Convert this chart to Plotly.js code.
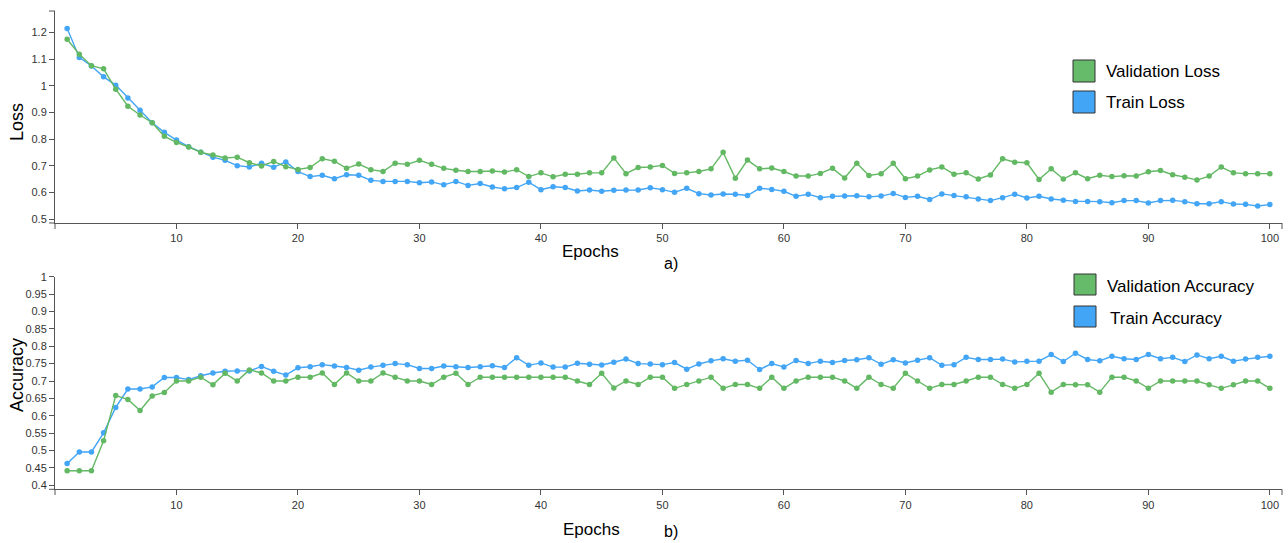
<!DOCTYPE html>
<html>
<head>
<meta charset="utf-8">
<script src="https://cdn.plot.ly/plotly-3.0.1.min.js"></script>
<style>html,body{margin:0;padding:0;background:#fff;}#chart{width:1288px;height:543px;}</style>
</head>
<body>
<div id="chart"></div>
<script>
const epochs = [1,2,3,4,5,6,7,8,9,10,11,12,13,14,15,16,17,18,19,20,21,22,23,24,25,26,27,28,29,30,31,32,33,34,35,36,37,38,39,40,41,42,43,44,45,46,47,48,49,50,51,52,53,54,55,56,57,58,59,60,61,62,63,64,65,66,67,68,69,70,71,72,73,74,75,76,77,78,79,80,81,82,83,84,85,86,87,88,89,90,91,92,93,94,95,96,97,98,99,100];

const valLoss = [
1.174,1.118,1.075,1.063,0.987,0.923,0.890,0.861,0.810,0.787,
0.770,0.750,0.740,0.729,0.732,0.711,0.699,0.716,0.696,0.686,
0.693,0.726,0.717,0.690,0.706,0.685,0.678,0.709,0.705,0.720,
0.705,0.690,0.683,0.678,0.678,0.680,0.676,0.685,0.659,0.673,
0.658,0.668,0.668,0.673,0.673,0.729,0.670,0.693,0.695,0.701,
0.671,0.673,0.678,0.688,0.750,0.653,0.721,0.688,0.691,0.678,
0.661,0.661,0.671,0.690,0.654,0.709,0.663,0.670,0.709,0.651,
0.661,0.684,0.695,0.668,0.673,0.650,0.665,0.726,0.713,0.711,
0.648,0.688,0.650,0.673,0.651,0.664,0.659,0.662,0.661,0.677,
0.682,0.666,0.657,0.646,0.661,0.695,0.673,0.670,0.670,0.670];

const trainLoss = [
1.214,1.106,1.074,1.033,1.002,0.954,0.908,0.861,0.825,0.796,
0.771,0.750,0.732,0.720,0.700,0.695,0.709,0.694,0.714,0.678,
0.659,0.664,0.651,0.666,0.664,0.645,0.641,0.641,0.641,0.636,
0.639,0.628,0.641,0.626,0.633,0.620,0.613,0.618,0.638,0.610,
0.621,0.618,0.605,0.609,0.604,0.608,0.609,0.609,0.617,0.610,
0.600,0.615,0.595,0.590,0.594,0.593,0.588,0.615,0.611,0.604,
0.585,0.593,0.580,0.585,0.586,0.587,0.583,0.586,0.596,0.581,
0.585,0.573,0.594,0.588,0.583,0.575,0.569,0.580,0.593,0.579,
0.585,0.575,0.570,0.566,0.566,0.565,0.561,0.569,0.569,0.560,
0.569,0.570,0.565,0.557,0.557,0.565,0.556,0.555,0.549,0.554];

const valAcc = [
0.442,0.442,0.442,0.528,0.658,0.647,0.615,0.657,0.667,0.700,
0.700,0.711,0.689,0.722,0.700,0.732,0.723,0.700,0.700,0.711,
0.711,0.723,0.690,0.723,0.700,0.700,0.723,0.711,0.700,0.700,
0.690,0.711,0.722,0.690,0.711,0.711,0.711,0.711,0.711,0.711,
0.711,0.711,0.700,0.690,0.722,0.680,0.700,0.690,0.711,0.711,
0.679,0.690,0.700,0.711,0.679,0.690,0.690,0.679,0.711,0.679,
0.700,0.711,0.711,0.711,0.700,0.679,0.711,0.690,0.679,0.722,
0.700,0.679,0.690,0.690,0.700,0.711,0.711,0.690,0.679,0.690,
0.722,0.668,0.690,0.689,0.689,0.668,0.711,0.711,0.700,0.679,
0.700,0.700,0.700,0.700,0.689,0.679,0.689,0.700,0.700,0.679];

const trainAcc = [
0.463,0.496,0.496,0.551,0.624,0.677,0.677,0.683,0.710,0.710,
0.704,0.715,0.723,0.728,0.729,0.729,0.742,0.728,0.717,0.738,
0.741,0.747,0.743,0.739,0.731,0.740,0.745,0.750,0.747,0.736,
0.736,0.743,0.741,0.739,0.741,0.744,0.739,0.767,0.745,0.752,
0.740,0.740,0.751,0.748,0.746,0.754,0.763,0.750,0.749,0.747,
0.753,0.734,0.749,0.758,0.764,0.757,0.760,0.733,0.750,0.740,
0.759,0.750,0.757,0.753,0.759,0.761,0.767,0.748,0.761,0.752,
0.760,0.767,0.745,0.747,0.768,0.762,0.762,0.763,0.755,0.757,
0.757,0.776,0.756,0.780,0.762,0.758,0.771,0.764,0.762,0.776,
0.764,0.768,0.756,0.775,0.764,0.771,0.757,0.763,0.768,0.771];

const xTicks = [10,20,30,40,50,60,70,80,90,100];
const lossTicks = [0.5,0.6,0.7,0.8,0.9,1,1.1,1.2];
const lossTickText = ["0.5","0.6","0.7","0.8","0.9","1","1.1","1.2"];
const accTicks = [0.4,0.45,0.5,0.55,0.6,0.65,0.7,0.75,0.8,0.85,0.9,0.95,1];
const accTickText = ["0.4","0.45","0.5","0.55","0.6","0.65","0.7","0.75","0.8","0.85","0.9","0.95","1"];

const lossLegend = ["Validation Loss","Train Loss"];
const accLegend = ["Validation Accuracy","Train Accuracy"];

const GREEN = '#63b863';
const BLUE = '#42a5f5';
const W = 1288, H = 543;
const FONT = 'Arial, "Liberation Sans", sans-serif';
const px = v => v / W;
const py = v => 1 - v / H;

function tr(y, color, xa, ya) {
  return {x: epochs, y: y, xaxis: xa, yaxis: ya, type: 'scatter', mode: 'lines+markers',
    line: {color: color, width: 1.4}, marker: {color: color, size: 5.5}, showlegend: false, hoverinfo: 'x+y'};
}

const data = [
  tr(trainLoss, BLUE, 'x', 'y'),
  tr(valLoss, GREEN, 'x', 'y'),
  tr(trainAcc, BLUE, 'x2', 'y2'),
  tr(valAcc, GREEN, 'x2', 'y2')
];

const axisCommon = {showline: true, linecolor: '#555', linewidth: 1, ticks: 'outside', ticklen: 5, tickcolor: '#555',
  showgrid: false, zeroline: false, tickfont: {family: FONT, size: 11, color: '#333'}, fixedrange: true};

const xDomain = [px(55), px(1282)];

function seg(x0, y0, x1, y1) {
  return {type: 'line', xref: 'paper', yref: 'paper', x0: px(x0), y0: py(y0), x1: px(x1), y1: py(y1), line: {color: '#555', width: 1}};
}

const layout = {
  width: W, height: H,
  margin: {l: 0, r: 0, t: 0, b: 0},
  paper_bgcolor: '#fff', plot_bgcolor: '#fff',
  font: {family: FONT},
  xaxis: Object.assign({}, axisCommon, {domain: xDomain, range: [0, 101], tickvals: xTicks, anchor: 'y'}),
  yaxis: Object.assign({}, axisCommon, {domain: [py(223), py(11)], range: [0.485, 1.28], tickvals: lossTicks, ticktext: lossTickText, anchor: 'x'}),
  xaxis2: Object.assign({}, axisCommon, {domain: xDomain, range: [0, 101], tickvals: xTicks, anchor: 'y2'}),
  yaxis2: Object.assign({}, axisCommon, {domain: [py(489.3), py(276.7)], range: [0.3885, 1.0], tickvals: accTicks, ticktext: accTickText, anchor: 'x2'}),
  shapes: [
    seg(49, 11, 55, 11), seg(49, 223, 55, 223), seg(55, 223, 55, 229), seg(1282, 223, 1282, 229),
    seg(49, 489.3, 55, 489.3), seg(55, 489.3, 55, 495), seg(1282, 489.3, 1282, 495),
    {type: 'rect', xref: 'paper', yref: 'paper', x0: px(1073), x1: px(1095), y0: py(82), y1: py(60), fillcolor: '#66bb6a', line: {color: '#333', width: 1}},
    {type: 'rect', xref: 'paper', yref: 'paper', x0: px(1073), x1: px(1095), y0: py(113), y1: py(91), fillcolor: BLUE, line: {color: '#333', width: 1}},
    {type: 'rect', xref: 'paper', yref: 'paper', x0: px(1074), x1: px(1096), y0: py(295), y1: py(274), fillcolor: '#66bb6a', line: {color: '#333', width: 1}},
    {type: 'rect', xref: 'paper', yref: 'paper', x0: px(1074), x1: px(1096), y0: py(327), y1: py(306), fillcolor: BLUE, line: {color: '#333', width: 1}}
  ],
  annotations: [
    {text: 'Loss', xref: 'paper', yref: 'paper', x: px(17), y: py(122), textangle: -90, showarrow: false, font: {size: 18, color: '#000', family: FONT}, xanchor: 'center', yanchor: 'middle'},
    {text: 'Epochs', xref: 'paper', yref: 'paper', x: px(590), y: py(252), showarrow: false, font: {size: 17, color: '#000', family: FONT}, xanchor: 'center', yanchor: 'middle'},
    {text: 'a)', xref: 'paper', yref: 'paper', x: px(671), y: py(263), showarrow: false, font: {size: 16, color: '#000', family: FONT}, xanchor: 'center', yanchor: 'middle'},
    {text: 'Accuracy', xref: 'paper', yref: 'paper', x: px(17), y: py(375), textangle: -90, showarrow: false, font: {size: 18, color: '#000', family: FONT}, xanchor: 'center', yanchor: 'middle'},
    {text: 'Epochs', xref: 'paper', yref: 'paper', x: px(591), y: py(529), showarrow: false, font: {size: 17, color: '#000', family: FONT}, xanchor: 'center', yanchor: 'middle'},
    {text: 'b)', xref: 'paper', yref: 'paper', x: px(671), y: py(531), showarrow: false, font: {size: 16, color: '#000', family: FONT}, xanchor: 'center', yanchor: 'middle'},
    {text: lossLegend[0], xref: 'paper', yref: 'paper', x: px(1104), y: py(71), showarrow: false, font: {size: 17, color: '#000', family: FONT}, xanchor: 'left', yanchor: 'middle'},
    {text: lossLegend[1], xref: 'paper', yref: 'paper', x: px(1104), y: py(103), showarrow: false, font: {size: 17, color: '#000', family: FONT}, xanchor: 'left', yanchor: 'middle'},
    {text: accLegend[0], xref: 'paper', yref: 'paper', x: px(1105), y: py(286), showarrow: false, font: {size: 17, color: '#000', family: FONT}, xanchor: 'left', yanchor: 'middle'},
    {text: accLegend[1], xref: 'paper', yref: 'paper', x: px(1108), y: py(318), showarrow: false, font: {size: 17, color: '#000', family: FONT}, xanchor: 'left', yanchor: 'middle'}
  ]
};

Plotly.newPlot('chart', data, layout, {displayModeBar: false, staticPlot: true});
</script>
</body>
</html>
